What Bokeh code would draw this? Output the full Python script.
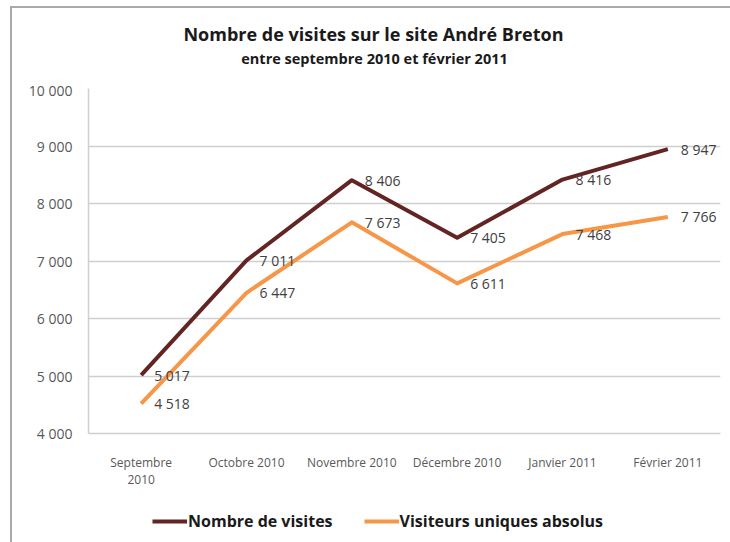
from bokeh.plotting import figure
from bokeh.layouts import column
from bokeh.models import (FactorRange, Range1d, FixedTicker, Legend,
                          LegendItem, Label, InlineStyleSheet)
from bokeh.embed import file_html
from bokeh.resources import INLINE
from bokeh.core.properties import value

# ---- data ----
months = ["Septembre\n2010", "Octobre 2010", "Novembre 2010",
          "Décembre 2010", "Janvier 2011", "Février 2011"]
visites = [5017, 7011, 8406, 7405, 8416, 8947]
visiteurs = [4518, 6447, 7673, 6611, 7468, 7766]
y_ticks = [4000, 5000, 6000, 7000, 8000, 9000, 10000]
series_names = ["Nombre de visites", "Visiteurs uniques absolus"]
title_text = "Nombre de visites sur le site André Breton"
subtitle_text = "entre septembre 2010 et février 2011"


def fmt(n):
    return f"{n:,}".replace(",", " ")


FONT = "Open Sans"
C_VIS = "#632523"
C_UNI = "#F79646"
BORDER = "#a9a9a9"


def frame_css(top):
    return InlineStyleSheet(css=f"""
:host::after {{
  content: "";
  position: absolute;
  left: 10px; top: {top}px; right: 0; bottom: 0;
  border-left: 2px solid {BORDER};
  {'border-top: 2px solid ' + BORDER + ';' if top > 0 else ''}
  pointer-events: none;
  z-index: 10;
}}
""")


# ---- title strip (page pixels map 1:1 to its data units) ----
t = figure(width=730, height=80,
           x_range=Range1d(88, 720), y_range=Range1d(80, 0),
           min_border_left=88, min_border_right=10,
           min_border_top=0, min_border_bottom=0,
           x_axis_location=None, y_axis_location=None,
           output_backend="svg", toolbar_location=None,
           stylesheets=[frame_css(6)])
t.grid.visible = False
t.outline_line_color = None
t.border_fill_color = "white"
t.add_layout(Label(x=373, y=33, text=title_text,
                   text_align="center", text_baseline="middle",
                   text_font=FONT, text_font_style="bold",
                   text_font_size="18px", text_color="#1a1a1a"))
t.add_layout(Label(x=374, y=58, text=subtitle_text,
                   text_align="center", text_baseline="middle",
                   text_font=FONT, text_font_style="bold",
                   text_font_size="14.5px", text_color="#1a1a1a"))

# ---- main chart ----
p = figure(width=730, height=415,
           x_range=FactorRange(*months, range_padding=0),
           y_range=Range1d(4000, 10000),
           min_border_left=88, min_border_right=10,
           min_border_top=8, min_border_bottom=62,
           output_backend="svg", toolbar_location=None,
           stylesheets=[frame_css(0)])
p.outline_line_color = None
p.background_fill_color = "white"
p.border_fill_color = "white"

p.xgrid.grid_line_color = None
p.ygrid.grid_line_color = "#cfcfcf"
p.ygrid.grid_line_width = 1.5

p.yaxis.ticker = FixedTicker(ticks=y_ticks)
p.yaxis.major_label_overrides = {tk: fmt(tk) for tk in y_ticks}
p.yaxis.axis_line_color = "#cfcfcf"
p.yaxis.axis_line_width = 1.5
p.yaxis.major_tick_line_color = None
p.yaxis.minor_tick_line_color = None
p.yaxis.major_label_standoff = 10
p.yaxis.major_label_text_font = FONT
p.yaxis.major_label_text_font_size = "14px"
p.yaxis.major_label_text_color = "#595959"

p.xaxis.axis_line_color = "#cfcfcf"
p.xaxis.axis_line_width = 1.5
p.xaxis.major_tick_line_color = None
p.xaxis.minor_tick_line_color = None
p.xaxis.major_label_standoff = 14
p.xaxis.major_label_text_font = FONT
p.xaxis.major_label_text_font_size = "12px"
p.xaxis.major_label_text_line_height = 1.0
p.xaxis.major_label_text_color = "#595959"

r1 = p.line(months, visites, line_color=C_VIS, line_width=4, line_join="round")
r2 = p.line(months, visiteurs, line_color=C_UNI, line_width=4, line_join="round")

for vals in (visites, visiteurs):
    p.text(x=months, y=vals, text=[fmt(v) for v in vals], x_offset=13,
           text_align="left", text_baseline="middle",
           text_font=value(FONT), text_font_size="14px", text_color="#404040")

# ---- legend strip ----
q = figure(width=730, height=47,
           x_range=FactorRange(*months), y_range=Range1d(0, 1),
           min_border_left=88, min_border_right=10,
           min_border_top=0, min_border_bottom=0,
           x_axis_location=None, y_axis_location=None,
           output_backend="svg", toolbar_location=None,
           stylesheets=[frame_css(0)])
q.grid.visible = False
q.outline_line_color = None
q.border_fill_color = "white"
l1 = q.line(months, visites, line_color=C_VIS, line_width=4)
l2 = q.line(months, visiteurs, line_color=C_UNI, line_width=4)
legend = Legend(items=[LegendItem(label=series_names[0], renderers=[l1]),
                       LegendItem(label=series_names[1], renderers=[l2])],
                orientation="horizontal", location=(64, 10),
                glyph_width=35, glyph_height=20, label_height=20,
                label_standoff=1, spacing=31, padding=0, margin=0,
                border_line_color=None, background_fill_alpha=0,
                label_text_font=FONT, label_text_font_style="bold",
                label_text_font_size="16px", label_text_color="#1a1a1a")
q.add_layout(legend, "center")

layout = column(t, p, q, spacing=0)
open("out.html", "w").write(file_html(layout, INLINE))
